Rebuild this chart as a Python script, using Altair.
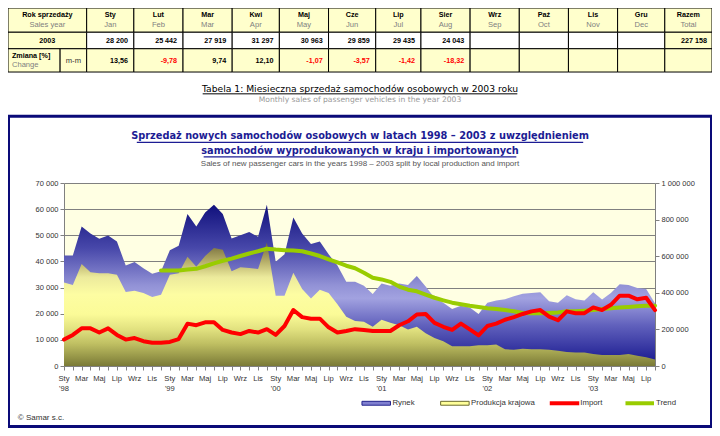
import altair as alt
import pandas as pd

# ---------------- data ----------------
month_pl = ["Sty", "Lut", "Mar", "Kwi", "Maj", "Cze", "Lip", "Sie", "Wrz", "Paź", "Lis", "Gru"]
year_labels = ["'98", "'99", "'00", "'01", "'02", "'03"]

rynek = [42300, 42300, 53400, 50700, 48700, 49900, 47600, 38400, 39800, 37400, 35300, 36200,
         44300, 46000, 58100, 53400, 58700, 61700, 58100, 48800, 50000, 51300, 49400, 61700,
         39900, 42700, 56800, 50700, 46700, 47600, 42700, 38400, 32200, 32200, 30700, 27500,
         31600, 30700, 31600, 31000, 34400, 30400, 26100, 24200, 21800, 23000, 22400, 19900,
         24200, 25100, 25500, 26700, 27600, 27900, 28200, 24800, 24200, 27100, 25500, 25100,
         28200, 25442, 27919, 31297, 30963, 29859, 29435, 24043]

produkcja = [31900, 31000, 39000, 35900, 35500, 35500, 34900, 28300, 28800, 27900, 26400, 27300,
             34900, 35500, 41800, 38000, 42100, 45100, 44500, 36200, 37800, 37500, 37100, 47200,
             26900, 26900, 35700, 29500, 25800, 29200, 27900, 23600, 18800, 17200, 16900, 15000,
             17700, 16500, 15600, 14000, 15000, 12500, 10700, 9500, 7600, 7600, 7600, 7900,
             7900, 8200, 6400, 6200, 6600, 6400, 6400, 6200, 5800, 5400, 5200, 5200,
             4600, 4200, 4200, 4200, 4600, 3900, 3300, 2500]

import_vals = [10100, 11900, 14400, 14400, 12800, 14400, 11900, 10100, 10700, 9500, 8900, 8900,
               9200, 10300, 16200, 15600, 16700, 16700, 13800, 12800, 12200, 13400, 12800, 14100,
               11900, 15300, 21400, 18700, 18100, 18100, 14800, 12800, 13400, 14100, 13800, 13400,
               13400, 13400, 15600, 17100, 19700, 19900, 16500, 15000, 13800, 16200, 14000, 11700,
               15300, 16200, 17700, 18700, 19900, 20900, 21400, 18900, 17500, 20900, 20200, 20200,
               22400, 21400, 23400, 26900, 26900, 25500, 26100, 21400]

trend_start = 11  # Dec 1998
trend = [522000, 522000, 522000, 527000, 531000, 545000, 561000, 575000, 587000, 601000,
         615000, 627000, 641000, 636000, 633000, 631000, 627000, 615000, 601000, 583000,
         566000, 548000, 534000, 510000, 482000, 473000, 460000, 434000, 417000, 408000,
         390000, 373000, 359000, 346000, 337000, 329000, 323000, 316000, 311000, 306000,
         299000, 290000, 288000, 288000, 290000, 293000, 299000, 299000, 302000, 306000,
         311000, 315000, 320000, 323000, 327000, 329000, 329000]

table_pl = ["Sty", "Lut", "Mar", "Kwi", "Maj", "Cze", "Lip", "Sier", "Wrz", "Paź", "Lis", "Gru", "Razem"]
table_en = ["Jan", "Feb", "Mar", "Apr", "May", "Jun", "Jul", "Aug", "Sep", "Oct", "Nov", "Dec", "Total"]
sales_2003 = [28200, 25442, 27919, 31297, 30963, 29859, 29435, 24043]
total_2003 = 227158
change_2003 = [13.56, -9.78, 9.74, 12.10, -1.07, -3.57, -1.42, -18.32]
legend_names = ["Rynek", "Produkcja krajowa", "Import", "Trend"]

# ---------------- layout ----------------
W_TOTAL, H_TOTAL = 704, 420
PL, PT, WP, HP = 56, 175, 591, 183
SX, SY = 704 / 716, 420 / 433


def X(rx):
    return (rx - 2) * SX - PL


def Y(ry):
    return (ry - 1) * SY - PT


FONT = "Liberation Sans"
TITLE_FONT = "Liberation Sans Narrow, DejaVu Sans Condensed, Liberation Sans"
GRAY = "#808080"
NAVY = "#1c1c94"

# ---------------- main plot ----------------
df = pd.DataFrame({"i": list(range(len(rynek))), "rynek": rynek, "prod": produkcja, "imp": import_vals})
df_trend = pd.DataFrame({"i": list(range(trend_start, trend_start + len(trend))), "trend": trend})

xscale = alt.Scale(domain=[0, 67], nice=False, zero=False)
x_axis = alt.Axis(values=list(range(68)), labels=False, grid=False, ticks=True, tickSize=4,
                  tickColor=GRAY, domainColor=GRAY, title=None)
x_enc = alt.X("i:Q", scale=xscale, axis=x_axis)
yscale = alt.Scale(domain=[0, 70000], nice=False, zero=True)
label_expr = "replace(format(datum.value, ','), regexp(',', 'g'), ' ')"
y_axis = alt.Axis(values=list(range(0, 70001, 10000)), grid=True, gridColor=GRAY, gridWidth=1,
                  domainColor=GRAY, tickColor=GRAY, tickSize=4, labelExpr=label_expr,
                  labelFontSize=7.5, labelFont=FONT, labelColor="#333333", labelPadding=2, title=None)

blue_grad = alt.Gradient(gradient="linear", x1=0, x2=0, y1=0, y2=1, stops=[
    alt.GradientStop(offset=0, color="#10107c"),
    alt.GradientStop(offset=0.27, color="#4848aa"),
    alt.GradientStop(offset=0.5, color="#9292d6"),
    alt.GradientStop(offset=0.58, color="#a2a2e0"),
    alt.GradientStop(offset=0.75, color="#6060bc"),
    alt.GradientStop(offset=1, color="#14148c"),
])
yel_grad = alt.Gradient(gradient="linear", x1=0, x2=0, y1=0, y2=1, stops=[
    alt.GradientStop(offset=0, color="#6f6738"),
    alt.GradientStop(offset=0.15, color="#b5ad68"),
    alt.GradientStop(offset=0.28, color="#ecea9c"),
    alt.GradientStop(offset=0.42, color="#fdfda2"),
    alt.GradientStop(offset=0.58, color="#fbfb98"),
    alt.GradientStop(offset=0.7, color="#e2e280"),
    alt.GradientStop(offset=0.82, color="#bfbf62"),
    alt.GradientStop(offset=1, color="#7a7a36"),
])

base = alt.Chart(df)
rynek_area = base.mark_area(color=blue_grad).encode(
    x=x_enc, y=alt.Y("rynek:Q", scale=yscale, axis=y_axis))
prod_area = base.mark_area(color=yel_grad).encode(
    x=x_enc, y=alt.Y("prod:Q", scale=yscale, axis=y_axis))

lbl_idx = list(range(0, 68, 2))
df_mlab = pd.DataFrame({"i": lbl_idx, "t": [month_pl[k % 12] for k in lbl_idx]})
df_ylab = pd.DataFrame({"i": [12 * k for k in range(len(year_labels))], "t": year_labels})
mlab = alt.Chart(df_mlab).mark_text(font=FONT, fontSize=7.6, color="#333333", baseline="middle").encode(
    x=x_enc, y=alt.value(Y(383)), text="t:N")
ylab = alt.Chart(df_ylab).mark_text(font=FONT, fontSize=7.6, color="#333333", baseline="middle").encode(
    x=x_enc, y=alt.value(Y(394)), text="t:N")

main = alt.layer(rynek_area, prod_area, mlab, ylab)

trend_line = alt.Chart(df_trend).mark_line(color="#99CC00", strokeWidth=4, strokeJoin="round",
                                           strokeCap="round").encode(
    x=alt.X("i:Q", scale=xscale, axis=None),
    y=alt.Y("trend:Q", scale=alt.Scale(domain=[0, 1000000], nice=False),
            axis=alt.Axis(orient="right", values=list(range(0, 1000001, 200000)), grid=False,
                          domainColor=GRAY, tickColor=GRAY, tickSize=4, labelExpr=label_expr,
                          labelFontSize=7.5, labelFont=FONT, labelColor="#333333",
                          labelPadding=2, title=None)))

import_line = alt.Chart(df).mark_line(color="#FF0000", strokeWidth=4, strokeJoin="round",
                                      strokeCap="round").encode(
    x=alt.X("i:Q", scale=xscale, axis=None),
    y=alt.Y("imp:Q", scale=yscale, axis=None))

# ---------------- decorations: table, titles, legend ----------------
NS = dict(scale=None, axis=None)


def px(f):
    return alt.X(f, **NS)


def py(f):
    return alt.Y(f, **NS)


col_edges = [82, 130, 180, 230, 278, 328, 376, 422, 472, 522, 572, 622, 670, 718]
WHITE, YEL = "#FFFFFF", "#FFFFCC"
cells = [(2, 82, 1, 26, YEL)]
for k in range(13):
    cells.append((col_edges[k], col_edges[k + 1], 1, 26, YEL))
cells.append((2, 82, 26, 43, YEL))
for k in range(12):
    cells.append((col_edges[k], col_edges[k + 1], 26, 43, WHITE))
cells.append((670, 718, 26, 43, YEL))
cells += [(2, 55, 43, 67, YEL), (55, 82, 43, 67, YEL)]
for k in range(13):
    cells.append((col_edges[k], col_edges[k + 1], 43, 67, YEL))
df_cells = pd.DataFrame({"x": [X(c[0]) for c in cells], "x2": [X(c[1]) for c in cells],
                         "y": [Y(c[2]) for c in cells], "y2": [Y(c[3]) for c in cells],
                         "f": [c[4] for c in cells]})
cell_rects = alt.Chart(df_cells).mark_rect(stroke="#000000", strokeWidth=1).encode(
    x=px("x:Q"), x2="x2:Q", y=py("y:Q"), y2="y2:Q", fill=alt.Fill("f:N", scale=None))


def text_layer(rows, align, weight, size=7.6):
    d = pd.DataFrame({"t": [c[0] for c in rows], "x": [X(c[1]) for c in rows],
                      "y": [Y(c[2]) for c in rows], "c": [c[3] for c in rows]})
    return alt.Chart(d).mark_text(font=FONT, fontSize=size, baseline="middle", align=align,
                                  fontWeight=weight).encode(
        x=px("x:Q"), y=py("y:Q"), text="t:N", color=alt.Color("c:N", scale=None))


def fmt_int(v):
    return f"{v:,}".replace(",", " ")


def fmt_pct(v):
    return f"{v:.2f}".replace(".", ",")


# black (bold-looking) centered texts and grey centered texts
ct_black = [("Rok sprzedaży", 42, 8.5, "#000000"), ("2003", 42, 35, "#000000")]
ct_grey = [("Sales year", 42, 18.5, "#808080"), ("m-m", 68.5, 55.5, "#333333")]
for k in range(13):
    cx = (col_edges[k] + col_edges[k + 1]) / 2
    ct_black.append((table_pl[k], cx, 8.5, "#000000"))
    ct_grey.append((table_en[k], cx, 18.5, "#808080"))

rt = []
for k, v in enumerate(sales_2003):
    rt.append((fmt_int(v), col_edges[k + 1] - 6, 35, "#000000"))
rt.append((fmt_int(total_2003), 713, 35, "#000000"))
for k, v in enumerate(change_2003):
    rt.append((fmt_pct(v), col_edges[k + 1] - 6, 55.5, "#FF0000" if v < 0 else "#000000"))

ct1 = text_layer(ct_black, "center", "bold", 7.2)
ct2 = text_layer(ct_grey, "center", "normal", 7.6)
rt_text = text_layer(rt, "right", "bold", 7.2)
lt1 = text_layer([("Zmiana [%]", 6, 50, "#000000")], "left", "bold", 7.2)
lt2 = text_layer([("Change", 6, 60, "#808080")], "left", "normal", 7.6)

one = pd.DataFrame({"a": [0]})


def label(text, rx, ry, size, color, font=FONT, weight="normal", align="center"):
    return alt.Chart(one).mark_text(text=text, font=font, fontSize=size, fontWeight=weight,
                                    color=color, align=align, baseline="middle").encode(
        x=alt.value(X(rx)), y=alt.value(Y(ry)))


caption1 = label("Tabela 1: Miesieczna sprzedaż samochodów osobowych w 2003 roku", 360, 84, 9.2,
                 "#000000", font="DejaVu Sans")
caption2 = label("Monthly sales of passenger vehicles in the year 2003", 360, 96, 7.6, "#9a9a9a",
                 font="DejaVu Sans")
title1 = label("Sprzedaż nowych samochodów osobowych w latach 1998 – 2003 z uwzględnieniem",
               360, 132.5, 10.9, NAVY, font=TITLE_FONT, weight="bold")
title2 = label("samochodów wyprodukowanych w kraju i  importowanych",
               360, 148, 10.9, NAVY, font=TITLE_FONT, weight="bold")
subtitle = label("Sales of new passenger cars in the years 1998 – 2003 split by local production and import",
                 360, 161.5, 8, "#555555")
copyright_t = label("© Samar s.c.", 12, 424, 8, "#333333", align="left")

leg_t = [(legend_names[0], 393), (legend_names[1], 473), (legend_names[2], 584), (legend_names[3], 661)]
df_leg = pd.DataFrame({"t": [c[0] for c in leg_t], "x": [X(c[1]) for c in leg_t],
                       "y": [Y(408.5)] * 4})
leg_text = alt.Chart(df_leg).mark_text(font=FONT, fontSize=7.8, color="#333333", align="left",
                                       baseline="middle").encode(x=px("x:Q"), y=py("y:Q"), text="t:N")

leg_rects = pd.DataFrame({"x": [X(362), X(442)], "x2": [X(391), X(471)],
                          "y": [Y(406.5)] * 2, "y2": [Y(410.5)] * 2,
                          "f": ["#8080d0", "#ffff99"], "s": ["#22228c", "#6b6b2e"]})
leg_rect = alt.Chart(leg_rects).mark_rect(strokeWidth=1).encode(
    x=px("x:Q"), x2="x2:Q", y=py("y:Q"), y2="y2:Q",
    fill=alt.Fill("f:N", scale=None), stroke=alt.Stroke("s:N", scale=None))

segs = [  # x1, x2, y, color, width
    (553, 583, 408.5, "#FF0000", 4), (630, 659, 408.5, "#99CC00", 4),
    (200, 520, 89.5, "#000000", 1), (133, 587, 139.5, NAVY, 1.2), (201, 519, 154.5, NAVY, 1.2),
]
df_segs = pd.DataFrame({"x": [X(s[0]) for s in segs], "x2": [X(s[1]) for s in segs],
                        "y": [Y(s[2]) for s in segs], "c": [s[3] for s in segs],
                        "w": [s[4] for s in segs]})
seg_rules = alt.Chart(df_segs).mark_rule(strokeCap="butt").encode(
    x=px("x:Q"), x2="x2:Q", y=py("y:Q"), color=alt.Color("c:N", scale=None),
    strokeWidth=alt.StrokeWidth("w:Q", scale=None))

box = alt.Chart(one).mark_rect(fill=None, stroke="#0a0a78", strokeWidth=3, filled=False).encode(
    x=alt.value(X(2.5)), x2=alt.value(X(717.5)), y=alt.value(Y(112.5)), y2=alt.value(Y(432.5)))

decor = alt.layer(cell_rects, ct1, ct2, rt_text, lt1, lt2, caption1, caption2, title1, title2,
                  subtitle, copyright_t, leg_rect, seg_rules, leg_text, box)

chart = alt.layer(main, trend_line, import_line, decor).resolve_scale(
    x="independent", y="independent", color="independent", fill="independent"
).properties(
    width=WP, height=HP, autosize=alt.AutoSizeParams(type="none"),
    padding={"left": PL, "top": PT, "right": W_TOTAL - PL - WP, "bottom": H_TOTAL - PT - HP},
    background="#FFFFFF",
).configure_view(fill="#FFFFE3", stroke=None)

chart.save("out.html", embed_options={"renderer": "svg", "actions": False})
